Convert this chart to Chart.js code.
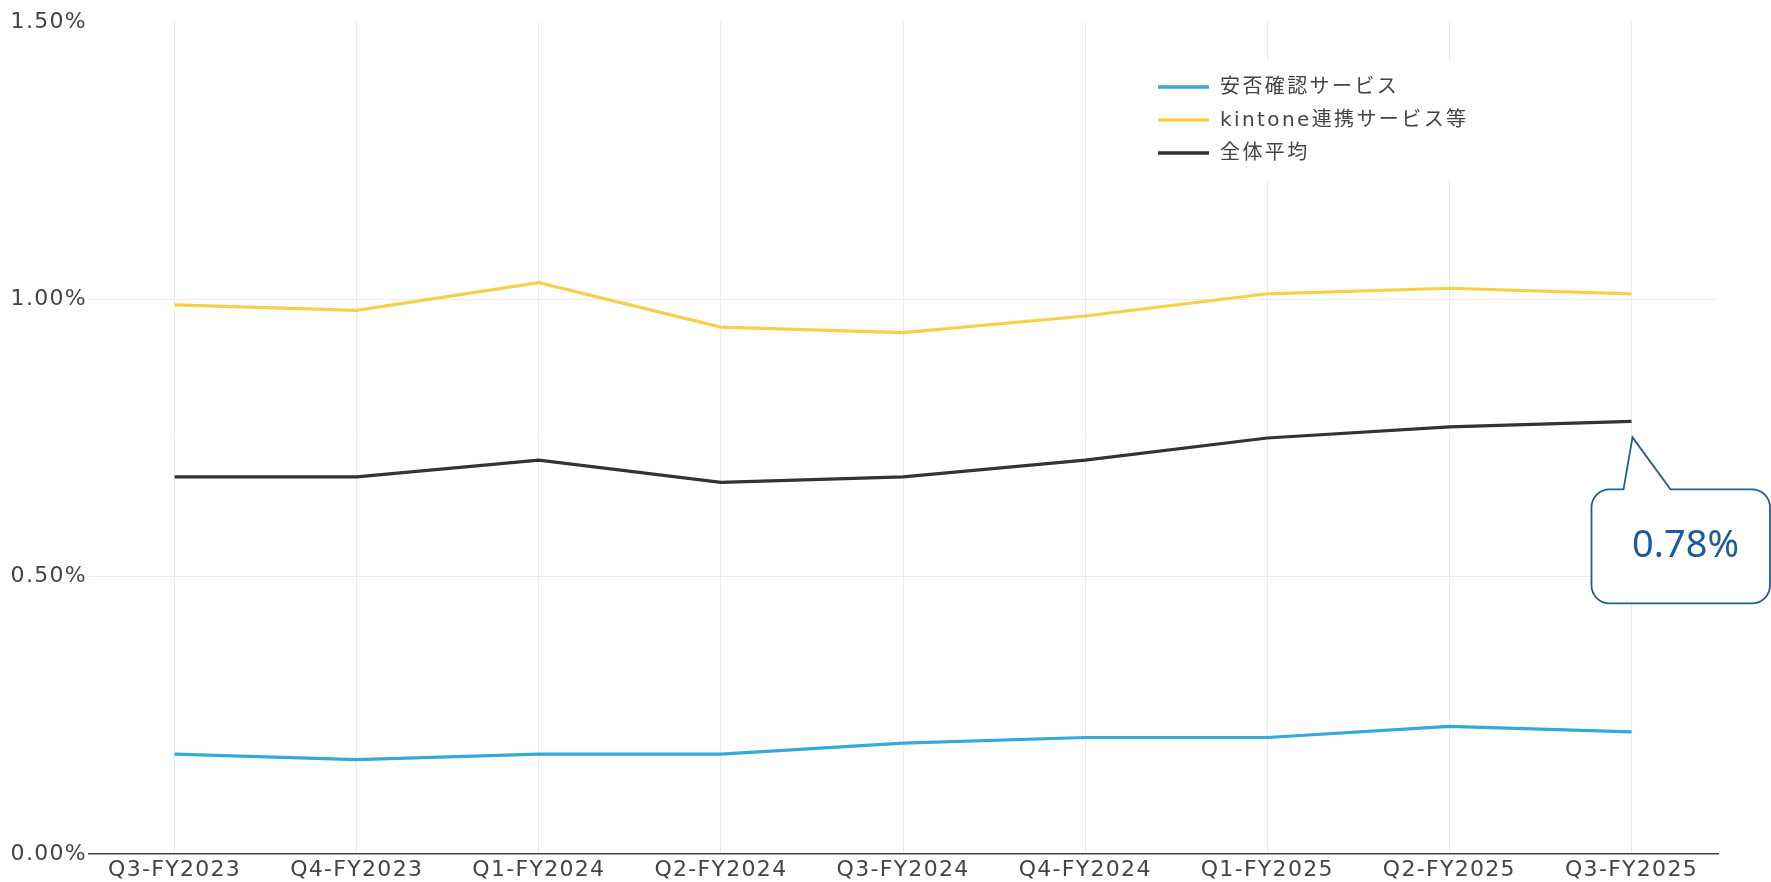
<!DOCTYPE html>
<html>
<head>
<meta charset="utf-8">
<script src="https://cdn.jsdelivr.net/npm/chart.js@4.4.1/dist/chart.umd.min.js"></script>
<style>
  body { margin: 0; background: #fff; }
</style>
</head>
<body>
<canvas id="ratioChart" width="1771" height="882"></canvas>
<script>
var quarters = ['Q3-FY2023', 'Q4-FY2023', 'Q1-FY2024', 'Q2-FY2024', 'Q3-FY2024', 'Q4-FY2024', 'Q1-FY2025', 'Q2-FY2025', 'Q3-FY2025'];
var anpi = [0.18, 0.17, 0.18, 0.18, 0.20, 0.21, 0.21, 0.23, 0.22];
var kintone = [0.99, 0.98, 1.03, 0.95, 0.94, 0.97, 1.01, 1.02, 1.01];
var average = [0.68, 0.68, 0.71, 0.67, 0.68, 0.71, 0.75, 0.77, 0.78];
var yTicks = [0, 0.5, 1.0, 1.5];

Chart.defaults.font.family = '"DejaVu Sans", "Noto Sans CJK JP"';
Chart.defaults.font.size = 22;
Chart.defaults.color = '#444';

function points(arr) {
    return arr.map(function (v, i) { return { x: i, y: v }; });
}

// wider letter spacing like the original
var spacing = {
    id: 'spacing',
    beforeLayout: function (chart) { chart.ctx.letterSpacing = '1.3px'; },
    beforeDraw: function (chart) { chart.ctx.letterSpacing = '1.3px'; }
};

// legend box inside the plot, top right
var boxLegend = {
    id: 'boxLegend',
    afterDraw: function (chart) {
        var ctx = chart.ctx;
        ctx.save();
        ctx.fillStyle = '#fff';
        ctx.fillRect(1146, 62, 334, 118);
        ctx.font = '20px "DejaVu Sans", "Noto Sans CJK JP"';
        ctx.textBaseline = 'middle';
        ctx.letterSpacing = '2.4px';
        chart.data.datasets.forEach(function (ds, i) {
            var y = 87 + i * 33;
            ctx.strokeStyle = ds.borderColor;
            ctx.lineWidth = 3.5;
            ctx.beginPath();
            ctx.moveTo(1158, y);
            ctx.lineTo(1209, y);
            ctx.stroke();
            ctx.fillStyle = '#444';
            ctx.fillText(ds.label, 1220, y + 1);
        });
        ctx.restore();
    }
};

// speech bubble pointing at the last average point
var callout = {
    id: 'callout',
    afterDraw: function (chart) {
        var meta = chart.getDatasetMeta(2);
        var pt = meta.data[meta.data.length - 1];
        var x = pt.x, y = pt.y;
        var ctx = chart.ctx;
        var l = x - 40, t = y + 68, r = 1770, b = y + 182, rad = 18;
        ctx.save();
        ctx.letterSpacing = '0px';
        ctx.strokeStyle = '#2a5b8e';
        ctx.lineWidth = 1.8;
        ctx.fillStyle = '#fff';
        ctx.beginPath();
        ctx.moveTo(l + rad, t);
        ctx.lineTo(x - 8, t);
        ctx.lineTo(x + 1, y + 16);
        ctx.lineTo(x + 39, t);
        ctx.lineTo(r - rad, t);
        ctx.arcTo(r, t, r, t + rad, rad);
        ctx.lineTo(r, b - rad);
        ctx.arcTo(r, b, r - rad, b, rad);
        ctx.lineTo(l + rad, b);
        ctx.arcTo(l, b, l, b - rad, rad);
        ctx.lineTo(l, t + rad);
        ctx.arcTo(l, t, l + rad, t, rad);
        ctx.closePath();
        ctx.fill();
        ctx.stroke();
        ctx.fillStyle = '#1d5b98';
        ctx.font = '38px "Noto Sans"';
        ctx.textAlign = 'center';
        ctx.textBaseline = 'middle';
        var last = average[average.length - 1];
        ctx.fillText(last.toFixed(2) + '%', x + 54, y + 125);
        ctx.restore();
    }
};

var ctx = document.getElementById('ratioChart');
var myChart = new Chart(ctx, {
    type: 'line',
    data: {
        datasets: [
            {
                label: '安否確認サービス',
                data: points(anpi),
                borderColor: '#35a8dc',
                backgroundColor: '#35a8dc',
            },
            {
                label: 'kintone連携サービス等',
                data: points(kintone),
                borderColor: '#f6d04a',
                backgroundColor: '#f6d04a',
            },
            {
                label: '全体平均',
                data: points(average),
                borderColor: '#333333',
                backgroundColor: '#333333',
            },
        ]
    },
    options: {
        responsive: false,
        animation: false,
        layout: {
            padding: { top: 22, right: 53, left: 0, bottom: 0 }
        },
        elements: {
            line: { borderWidth: 3.2, tension: 0 },
            point: { radius: 0, hoverRadius: 0 }
        },
        plugins: {
            legend: { display: false },
            tooltip: { enabled: false },
        },
        scales: {
            x: {
                type: 'linear',
                min: -0.47,
                max: quarters.length - 1 + 0.475,
                afterBuildTicks: function (scale) {
                    scale.ticks = quarters.map(function (q, i) { return { value: i }; });
                },
                afterFit: function (scale) { scale.height = 28; },
                grid: {
                    color: '#ebebeb',
                    lineWidth: 1,
                    drawTicks: false,
                },
                border: { color: '#444', width: 1.5 },
                ticks: {
                    padding: 3,
                    maxRotation: 0,
                    autoSkip: false,
                    callback: function (v) { return quarters[v]; }
                },
            },
            y: {
                min: yTicks[0],
                max: yTicks[yTicks.length - 1],
                afterBuildTicks: function (scale) {
                    scale.ticks = yTicks.map(function (v) { return { value: v }; });
                },
                afterFit: function (scale) { scale.width = 89; },
                grid: {
                    drawTicks: false,
                    color: function (c) {
                        if (c.tick && (c.tick.value === 0 || c.tick.value === 1.5)) return 'rgba(0,0,0,0)';
                        return '#ebebeb';
                    },
                },
                border: { display: false },
                ticks: {
                    padding: 2,
                    callback: function (v) { return v.toFixed(2) + '%'; }
                },
            },
        },
    },
    plugins: [spacing, boxLegend, callout],
});
</script>
</body>
</html>
